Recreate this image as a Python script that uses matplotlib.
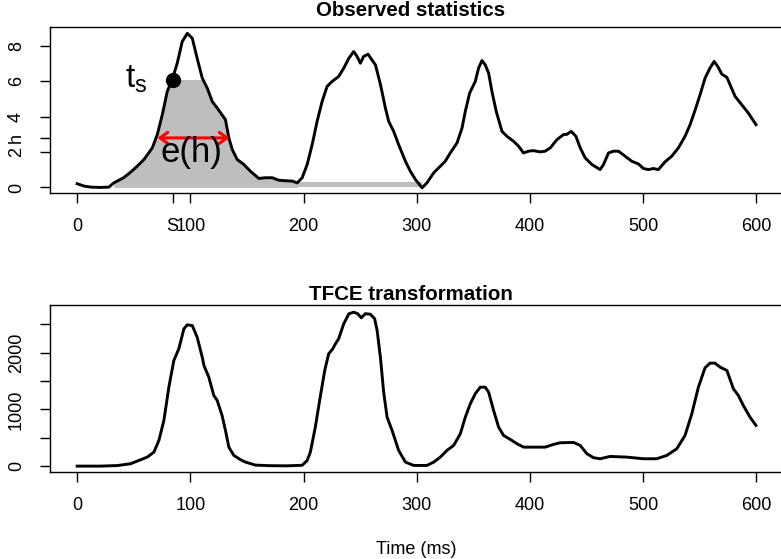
import numpy as np
import matplotlib
matplotlib.use('Agg')
import matplotlib.pyplot as plt

plt.rcParams['font.family'] = ['Liberation Sans', 'DejaVu Sans']

# Observed statistics (time in ms, statistic)
obs_time = [0, 6, 12, 20, 28, 32.5, 41, 47, 53, 59, 66.4, 70.8, 75.2, 79.6, 84, 88.4,
            92.8, 97.3, 101.7, 106, 110.5, 115, 119.3, 123.7, 128, 131, 134, 137,
            141.4, 147.2, 153, 160.5, 166.4, 172.3, 178, 184, 190, 194.4, 198.8,
            203.2, 207.6, 212, 216.4, 220.8, 225.2, 231, 235.5, 240, 244.3, 247.3,
            250.2, 253, 257, 260.5, 263.5, 268, 272.3, 275.2, 279.6, 284, 290,
            294.3, 298.8, 304.7, 309, 315, 320.8, 325.2, 329.6, 335.6, 340, 342.9,
            346.7, 351.7, 354.6, 357.6, 360.5, 363.5, 366.4, 370.2, 375.3, 379.7,
            385.5, 390, 394.3, 398.8, 403.2, 409, 413.5, 418, 423.8, 429.7, 432.6,
            436.4, 440.6, 444.4, 448.8, 454.7, 460.5, 462, 465, 469.4, 473.8, 478.2,
            484, 490, 495.8, 500.3, 504.7, 509, 513.5, 519.4, 525.3, 531.2, 537,
            541.5, 546, 550.3, 554.7, 559, 562.7, 566, 569.5, 574, 576.8, 581.2,
            587, 593, 599.7]
obs_stat = [0.21, 0.08, 0.02, 0.0, 0.02, 0.26, 0.55, 0.85, 1.2, 1.58, 2.24, 2.99, 4.11,
            5.43, 6.1, 7.02, 8.24, 8.71, 8.43, 7.3, 6.18, 5.6, 4.86, 4.49, 4.1, 3.83,
            2.8, 2.14, 1.58, 1.3, 0.92, 0.51, 0.55, 0.55, 0.41, 0.38, 0.36, 0.26,
            0.55, 1.3, 2.42, 3.74, 4.86, 5.71, 5.99, 6.27, 6.74, 7.3, 7.68, 7.4,
            7.02, 7.4, 7.53, 7.2, 6.93, 5.8, 4.49, 3.74, 3.17, 2.42, 1.48, 0.92,
            0.45, -0.02, 0.26, 0.83, 1.2, 1.48, 1.95, 2.52, 3.36, 4.3, 5.33, 5.99,
            6.74, 7.17, 6.93, 6.46, 5.43, 4.3, 3.17, 2.89, 2.61, 2.33, 1.95, 2.05,
            2.08, 2.01, 2.05, 2.24, 2.7, 2.99, 3.0, 3.17, 2.89, 2.24, 1.67, 1.3,
            1.07, 1.01, 1.3, 1.95, 2.05, 2.05, 1.77, 1.48, 1.33, 1.07, 1.01, 1.07,
            1.01, 1.45, 1.77, 2.24, 2.89, 3.55, 4.39, 5.24, 6.18, 6.74, 7.12, 6.83,
            6.4, 6.22, 5.8, 5.15, 4.68, 4.2, 3.55]

# TFCE transformed statistics
tfce_time = [0, 20, 35.5, 47.2, 54.5, 62, 67.8, 72.2, 76.6, 81, 85.4, 89.8, 94.3,
             97.3, 101.7, 106, 110.5, 112, 116.3, 120.7, 123.7, 128, 131, 134,
             138.4, 144.3, 148.7, 157.5, 170, 185, 198.8, 203.2, 206, 210.4, 214.7,
             218.7, 222.2, 225.8, 228.2, 231, 235.5, 240, 244.3, 247.8, 251, 254.6,
             259, 262.8, 265, 268, 270.8, 273.8, 278.2, 284, 290, 297.3, 309, 315,
             320.8, 326.7, 332.6, 338.5, 342.9, 347.3, 351.7, 356.1, 360.5, 363.5,
             367.9, 372.3, 376.7, 384.1, 388.5, 394.4, 413.5, 420.8, 426.7, 438.5,
             444.4, 450.3, 456.2, 462, 470.8, 485.5, 500.3, 512, 520.9, 529.7, 537,
             543, 548.8, 554.7, 559, 563.5, 568, 574, 579.7, 584.1, 588.5, 594.4,
             599.7]
tfce_stat = [0, 0, 10, 42, 100, 160, 247, 453, 806, 1393, 1864, 2070, 2423, 2494,
             2480, 2275, 1922, 1776, 1570, 1247, 1159, 894, 630, 335, 189, 113, 71,
             18, 8, 5, 15, 100, 247, 688, 1217, 1688, 1982, 2070, 2159, 2247, 2511,
             2688, 2716, 2690, 2617, 2690, 2680, 2600, 2393, 1900, 1300, 864, 630,
             277, 71, 12, 12, 71, 159, 277, 365, 571, 864, 1100, 1277, 1393, 1393,
             1305, 982, 688, 541, 453, 395, 335, 335, 383, 412, 418, 365, 219, 148,
             130, 171, 159, 130, 130, 189, 306, 541, 924, 1393, 1735, 1817, 1817,
             1746, 1688, 1365, 1247, 1071, 864, 718]

# annotation values
ts_time = 84.3
ts_value = 6.1
h_value = 2.8
eh_left, eh_right = 71, 134.6
fill_start, fill_end = 30, 197
band_end, band_level = 305, 0.33

x_ticks = [0, 100, 200, 300, 400, 500, 600]
top_yticks = [0, 2, 4, 6, 8]
bottom_yticks = [0, 500, 1000, 1500, 2000, 2500]
bottom_ylabels = ['0', '', '1000', '', '2000', '']

W, H = 781, 559
fig = plt.figure(figsize=(W / 100, H / 100), dpi=100)
ax1 = fig.add_axes([50 / W, 1 - 193.3 / H, 733.5 / W, 166 / H])
ax2 = fig.add_axes([50 / W, 1 - 472.3 / H, 733.5 / W, 167.3 / H])

grey = '#BEBEBE'
t = np.array(obs_time)
v = np.array(obs_stat)

# cluster area up to t_s
m = (t >= fill_start) & (t <= fill_end)
ax1.fill_between(t[m], 0, np.minimum(v[m], ts_value), color=grey, lw=0)
ax1.fill_between([t[m][-1], band_end], 0, band_level, color=grey, lw=0)

ax1.plot(t, v, color='black', lw=2.1)
ax1.plot(ts_time, ts_value, 'o', color='black', ms=10, zorder=5)
ax1.annotate('', xy=(eh_left, h_value), xytext=(eh_right, h_value),
             arrowprops=dict(arrowstyle='<->, head_length=0.55, head_width=0.4',
                             color='red', lw=2.2, shrinkA=0, shrinkB=0))
ax1.text(62, ts_value, r'$\mathregular{t_s}$', ha='right', va='center',
         fontsize=24)
ax1.text(101, 1.95, 'e(h)', ha='center', va='center', fontsize=25)

ax2.plot(tfce_time, tfce_stat, color='black', lw=2.1)

ax1.set_xlim(-24, 624)
ax1.set_ylim(-0.33, 9.05)
ax2.set_xlim(-24, 624)
ax2.set_ylim(-109, 2843)

ax1.set_xticks([0, ts_time] + x_ticks[1:])
ax1.set_xticklabels(['0', 'S'] + [str(x) for x in x_ticks[1:]])
ax1.set_yticks([0, 2, h_value, 4, 6, 8])
ax1.set_yticklabels(['0', '2', 'h', '4', '6', '8'])
ax2.set_xticks(x_ticks)
ax2.set_xticklabels([str(x) for x in x_ticks])
ax2.set_yticks(bottom_yticks)
ax2.set_yticklabels(bottom_ylabels)

for ax in (ax1, ax2):
    for s in ax.spines.values():
        s.set_linewidth(1)
    ax.tick_params(length=7, width=1, labelsize=13)
    ax.tick_params(axis='x', pad=11)
    ax.tick_params(axis='y', pad=11, labelrotation=90)
    for lab in ax.get_yticklabels():
        lab.set_va('center')

fig.text(411 / W, 1 - 11 / H, 'Observed statistics', ha='center', va='center',
         fontsize=14.8, fontweight='bold')
fig.text(411 / W, 1 - 294 / H, 'TFCE transformation', ha='center', va='center',
         fontsize=14.8, fontweight='bold')
fig.text(416 / W, 1 - 549 / H, 'Time (ms)', ha='center', va='center', fontsize=13)

fig.savefig('out.png', dpi=100)
